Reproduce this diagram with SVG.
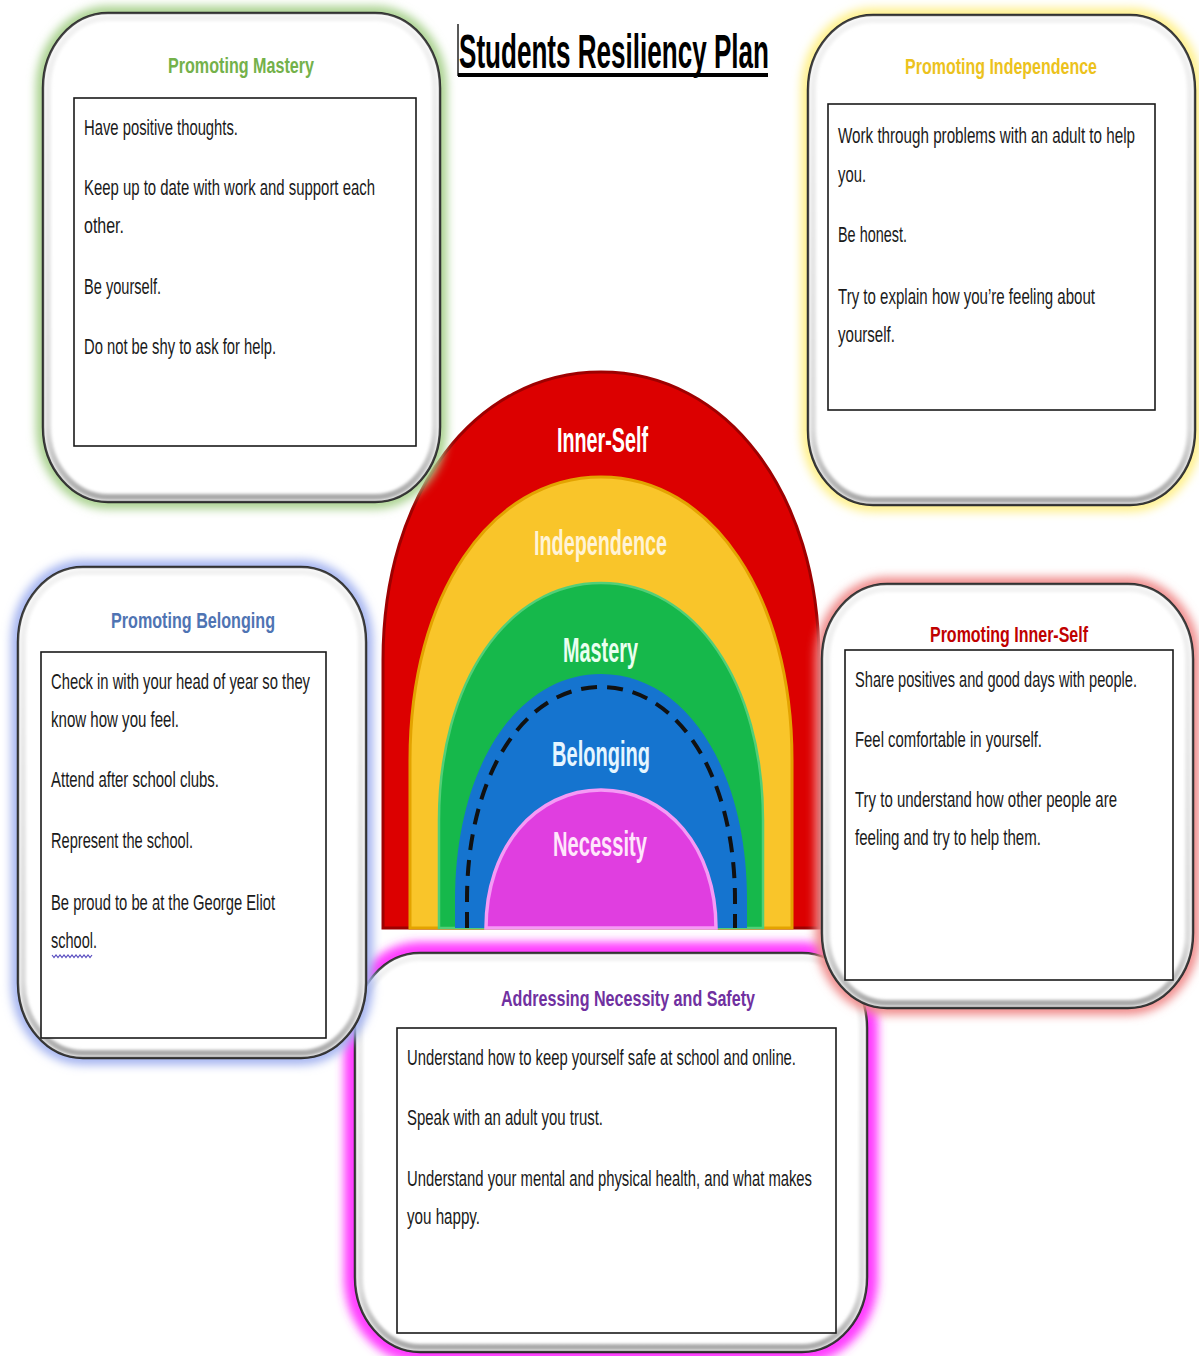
<svg xmlns="http://www.w3.org/2000/svg" width="1199" height="1356" viewBox="0 0 1199 1356">
<defs>
<style>
.body{font-family:"Liberation Sans",Arial,sans-serif;font-size:15px;fill:#1a1a1a}
.ttl{font-family:"Liberation Sans",Arial,sans-serif;font-size:16px;font-weight:bold}
.lbl{font-family:"Liberation Sans",Arial,sans-serif;font-size:20px;font-weight:bold}
.outer{fill:#fff;stroke:#2a2a2a;stroke-width:2.5}
.inner{fill:#fff;stroke:#1a1a1a;stroke-width:1.6}
.bevel{fill:none;stroke:url(#bev);stroke-width:6}
</style>
<linearGradient id="bev" x1="0" y1="0" x2="0" y2="1">
<stop offset="0" stop-color="#f2f2f2"/><stop offset="0.85" stop-color="#dcdcdc"/><stop offset="1" stop-color="#a8a8a8"/>
</linearGradient>
<filter id="glow" x="-10%" y="-10%" width="120%" height="120%"><feGaussianBlur stdDeviation="5"/></filter>
<filter id="soft" x="-5%" y="-5%" width="110%" height="110%"><feGaussianBlur stdDeviation="1.5"/></filter>
</defs>
<rect width="1199" height="1356" fill="#fff"/>

<g id="arch">
<path d="M383,928 L383,660 C383,493 475,372 601,372 C727,372 819,493 819,660 L819,928 Z" fill="#dc0000" stroke="#9e0000" stroke-width="3"/>
<path d="M410,928 L410,760 C410,596 490,477 601,477 C712,477 792,596 792,760 L792,928 Z" fill="#f9c52a" stroke="#e3a300" stroke-width="3"/>
<path d="M439,928 L439,820 C439,683 507,583 601,583 C695,583 763,683 763,820 L763,928 Z" fill="#16b84b" stroke="#52cf78" stroke-width="2.5"/>
<path d="M455,928 L455,900 C455,769 516,674 601,674 C686,674 747,769 747,900 L747,928 Z" fill="#1574cf"/>
<path d="M467,928 L467,900 C467,777 523,687 601,687 C679,687 735,777 735,900 L735,928" fill="none" stroke="#111" stroke-width="4" stroke-dasharray="16 10"/>
<path d="M486,928 C486,848 535,790 601,790 C667,790 716,848 716,928 Z" fill="#e03ee0" stroke="#f59af5" stroke-width="3.5"/>
<text class="lbl" transform="translate(557,452) scale(1,1.75)" textLength="91" lengthAdjust="spacingAndGlyphs" fill="#ffffff">Inner-Self</text>
<text class="lbl" transform="translate(534,555) scale(1,1.75)" textLength="133" lengthAdjust="spacingAndGlyphs" fill="#fff3d6">Independence</text>
<text class="lbl" transform="translate(563,662) scale(1,1.75)" textLength="75" lengthAdjust="spacingAndGlyphs" fill="#eafff0">Mastery</text>
<text class="lbl" transform="translate(552,766) scale(1,1.75)" textLength="98" lengthAdjust="spacingAndGlyphs" fill="#e6f6ff">Belonging</text>
<text class="lbl" transform="translate(553,856) scale(1,1.75)" textLength="94" lengthAdjust="spacingAndGlyphs" fill="#ffe6fb">Necessity</text>
</g>

<g id="mastery">
<rect x="43" y="13" width="397" height="489" rx="65" ry="75" fill="none" stroke="#a9d18e" stroke-width="14" filter="url(#glow)"/>
<rect class="outer" x="43" y="13" width="397" height="489" rx="65" ry="75"/>
<rect class="bevel" x="48" y="18" width="387" height="479" rx="60" ry="70" filter="url(#soft)"/>
<text class="ttl" transform="translate(168,73) scale(1,1.38)" textLength="146" lengthAdjust="spacingAndGlyphs" fill="#74b14a">Promoting Mastery</text>
<rect class="inner" x="74" y="98" width="342" height="348"/>
<text class="body" transform="translate(84,135) scale(1,1.5)" textLength="154" lengthAdjust="spacingAndGlyphs">Have positive thoughts.</text>
<text class="body" transform="translate(84,195) scale(1,1.5)" textLength="291" lengthAdjust="spacingAndGlyphs">Keep up to date with work and support each</text>
<text class="body" transform="translate(84,233) scale(1,1.5)" textLength="40" lengthAdjust="spacingAndGlyphs">other.</text>
<text class="body" transform="translate(84,294) scale(1,1.5)" textLength="77" lengthAdjust="spacingAndGlyphs">Be yourself.</text>
<text class="body" transform="translate(84,354) scale(1,1.5)" textLength="192" lengthAdjust="spacingAndGlyphs">Do not be shy to ask for help.</text>
</g>

<g id="independence">
<rect x="808" y="15" width="387" height="490" rx="65" ry="75" fill="none" stroke="#fff08a" stroke-width="14" filter="url(#glow)"/>
<rect class="outer" x="808" y="15" width="387" height="490" rx="65" ry="75"/>
<rect class="bevel" x="813" y="20" width="377" height="480" rx="60" ry="70" filter="url(#soft)"/>
<text class="ttl" transform="translate(905,74) scale(1,1.38)" textLength="192" lengthAdjust="spacingAndGlyphs" fill="#ecc21c">Promoting Independence</text>
<rect class="inner" x="828" y="104" width="327" height="306"/>
<text class="body" transform="translate(838,143) scale(1,1.5)" textLength="297" lengthAdjust="spacingAndGlyphs">Work through problems with an adult to help</text>
<text class="body" transform="translate(838,182) scale(1,1.5)" textLength="28" lengthAdjust="spacingAndGlyphs">you.</text>
<text class="body" transform="translate(838,242) scale(1,1.5)" textLength="69" lengthAdjust="spacingAndGlyphs">Be honest.</text>
<text class="body" transform="translate(838,304) scale(1,1.5)" textLength="257" lengthAdjust="spacingAndGlyphs">Try to explain how you’re feeling about</text>
<text class="body" transform="translate(838,342) scale(1,1.5)" textLength="57" lengthAdjust="spacingAndGlyphs">yourself.</text>
</g>

<g id="necessity">
<rect x="355" y="953" width="512" height="399" rx="65" ry="75" fill="none" stroke="#ff3cff" stroke-width="22" filter="url(#glow)"/>
<rect class="outer" x="355" y="953" width="512" height="399" rx="65" ry="75"/>
<rect class="bevel" x="360" y="958" width="502" height="389" rx="60" ry="70" filter="url(#soft)"/>
<text class="ttl" transform="translate(501,1006) scale(1,1.38)" textLength="254" lengthAdjust="spacingAndGlyphs" fill="#7030a0">Addressing Necessity and Safety</text>
<rect class="inner" x="397" y="1028" width="439" height="305"/>
<text class="body" transform="translate(407,1065) scale(1,1.5)" textLength="389" lengthAdjust="spacingAndGlyphs">Understand how to keep yourself safe at school and online.</text>
<text class="body" transform="translate(407,1125) scale(1,1.5)" textLength="196" lengthAdjust="spacingAndGlyphs">Speak with an adult you trust.</text>
<text class="body" transform="translate(407,1186) scale(1,1.5)" textLength="405" lengthAdjust="spacingAndGlyphs">Understand your mental and physical health, and what makes</text>
<text class="body" transform="translate(407,1224) scale(1,1.5)" textLength="73" lengthAdjust="spacingAndGlyphs">you happy.</text>
</g>

<g id="belonging">
<rect x="18" y="567" width="348" height="491" rx="65" ry="75" fill="none" stroke="#a4b4f0" stroke-width="14" filter="url(#glow)"/>
<rect class="outer" x="18" y="567" width="348" height="491" rx="65" ry="75"/>
<rect class="bevel" x="23" y="572" width="338" height="481" rx="60" ry="70" filter="url(#soft)"/>
<text class="ttl" transform="translate(111,628) scale(1,1.38)" textLength="164" lengthAdjust="spacingAndGlyphs" fill="#4f74b3">Promoting Belonging</text>
<rect class="inner" x="41" y="652" width="285" height="386"/>
<text class="body" transform="translate(51,689) scale(1,1.5)" textLength="259" lengthAdjust="spacingAndGlyphs">Check in with your head of year so they</text>
<text class="body" transform="translate(51,727) scale(1,1.5)" textLength="128" lengthAdjust="spacingAndGlyphs">know how you feel.</text>
<text class="body" transform="translate(51,787) scale(1,1.5)" textLength="168" lengthAdjust="spacingAndGlyphs">Attend after school clubs.</text>
<text class="body" transform="translate(51,848) scale(1,1.5)" textLength="142" lengthAdjust="spacingAndGlyphs">Represent the school.</text>
<text class="body" transform="translate(51,910) scale(1,1.5)" textLength="224" lengthAdjust="spacingAndGlyphs">Be proud to be at the George Eliot</text>
<text class="body" transform="translate(51,948) scale(1,1.5)" textLength="46" lengthAdjust="spacingAndGlyphs">school.</text>
<path d="M52,955 l2,2.5 l2,-2.5 l2,2.5 l2,-2.5 l2,2.5 l2,-2.5 l2,2.5 l2,-2.5 l2,2.5 l2,-2.5 l2,2.5 l2,-2.5 l2,2.5 l2,-2.5 l2,2.5 l2,-2.5 l2,2.5 l2,-2.5 l2,2.5 l2,-2.5" fill="none" stroke="#5a4fc0" stroke-width="1.2"/>
</g>

<g id="innerself">
<rect x="822" y="584" width="371" height="424" rx="65" ry="75" fill="none" stroke="#f08c8c" stroke-width="14" filter="url(#glow)"/>
<rect class="outer" x="822" y="584" width="371" height="424" rx="65" ry="75"/>
<rect class="bevel" x="827" y="589" width="361" height="414" rx="60" ry="70" filter="url(#soft)"/>
<rect class="inner" x="845" y="650" width="328" height="330"/>
<text class="ttl" transform="translate(930,642) scale(1,1.38)" textLength="158" lengthAdjust="spacingAndGlyphs" fill="#c00000">Promoting Inner-Self</text>
<text class="body" transform="translate(855,687) scale(1,1.5)" textLength="282" lengthAdjust="spacingAndGlyphs">Share positives and good days with people.</text>
<text class="body" transform="translate(855,747) scale(1,1.5)" textLength="187" lengthAdjust="spacingAndGlyphs">Feel comfortable in yourself.</text>
<text class="body" transform="translate(855,807) scale(1,1.5)" textLength="262" lengthAdjust="spacingAndGlyphs">Try to understand how other people are</text>
<text class="body" transform="translate(855,845) scale(1,1.5)" textLength="186" lengthAdjust="spacingAndGlyphs">feeling and try to help them.</text>
</g>

<g id="title">
<line x1="458" y1="24" x2="458" y2="76" stroke="#222" stroke-width="1.5"/>
<text transform="translate(459,68) scale(1,1.85)" font-family="'Liberation Sans',Arial,sans-serif" font-weight="bold" font-size="26" textLength="310" lengthAdjust="spacingAndGlyphs" fill="#000">Students Resiliency Plan</text>
<rect x="458" y="73" width="310" height="4" fill="#000"/>
</g>

<g id="connectors"></g>
</svg>
